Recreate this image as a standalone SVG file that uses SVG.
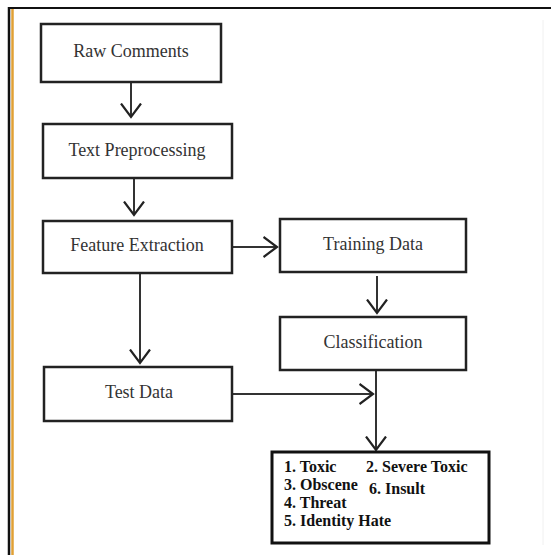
<svg xmlns="http://www.w3.org/2000/svg" width="551" height="555" viewBox="0 0 551 555">
<style>
.box{fill:#fff;stroke:#222;stroke-width:2.5}
.lbl{font-family:"Liberation Serif","Times New Roman",serif;font-size:18px;fill:#333;text-anchor:middle}
.lst{font-family:"Liberation Serif","Times New Roman",serif;font-size:16px;font-weight:bold;fill:#111}
.ln{fill:none;stroke:#333;stroke-width:2}
.ah{fill:none;stroke:#222;stroke-width:2.2}
</style>
<defs>
<marker id="v" viewBox="0 0 16 22" refX="14.5" refY="11" markerWidth="16" markerHeight="22" markerUnits="userSpaceOnUse" orient="auto">
<path d="M1,1 L14.5,11 L1,21" class="ah"/>
</marker>
</defs>
<rect width="551" height="555" fill="#fff"/>
<g id="frame">
<line x1="8" y1="8" x2="551" y2="8" stroke="#111" stroke-width="2"/>
<line x1="9" y1="7" x2="9" y2="555" stroke="#111" stroke-width="2.5"/>
<line x1="12.5" y1="9" x2="12.5" y2="555" stroke="#e0a035" stroke-width="2.5"/>
<line x1="543" y1="20" x2="543" y2="545" stroke="#f0f0f0" stroke-width="1"/>
</g>
<g id="connectors">
<line x1="131" y1="82" x2="131" y2="117" class="ln" marker-end="url(#v)"/>
<line x1="134" y1="178" x2="134" y2="215" class="ln" marker-end="url(#v)"/>
<line x1="232" y1="247" x2="277" y2="247" class="ln" marker-end="url(#v)"/>
<line x1="140" y1="273" x2="140" y2="363" class="ln" marker-end="url(#v)"/>
<line x1="377" y1="276" x2="377" y2="313" class="ln" marker-end="url(#v)"/>
<line x1="232" y1="394" x2="373" y2="394" class="ln" marker-end="url(#v)"/>
<line x1="376" y1="370" x2="376" y2="450" class="ln" marker-end="url(#v)"/>
</g>
<g id="raw-comments">
<rect x="41" y="24" width="180" height="58" class="box"/>
<text x="131" y="57" class="lbl">Raw Comments</text>
</g>
<g id="text-preprocessing">
<rect x="43" y="124" width="189" height="54" class="box"/>
<text x="137" y="156" class="lbl">Text Preprocessing</text>
</g>
<g id="feature-extraction">
<rect x="43" y="221" width="189" height="52" class="box"/>
<text x="137" y="251" class="lbl">Feature Extraction</text>
</g>
<g id="training-data">
<rect x="280" y="219" width="186" height="53" class="box"/>
<text x="373" y="250" class="lbl">Training Data</text>
</g>
<g id="classification">
<rect x="280" y="317" width="186" height="53" class="box"/>
<text x="373" y="348" class="lbl">Classification</text>
</g>
<g id="test-data">
<rect x="44" y="367" width="188" height="54" class="box"/>
<text x="139" y="398" class="lbl">Test Data</text>
</g>
<g id="output">
<rect x="272" y="452" width="217" height="91" fill="#fff" stroke="#111" stroke-width="3"/>
<text x="284" y="472" class="lst">1. Toxic</text>
<text x="366" y="472" class="lst">2. Severe Toxic</text>
<text x="284" y="490" class="lst">3. Obscene</text>
<text x="369" y="494" class="lst">6. Insult</text>
<text x="284" y="508" class="lst">4. Threat</text>
<text x="284" y="526" class="lst">5. Identity Hate</text>
</g>
</svg>
